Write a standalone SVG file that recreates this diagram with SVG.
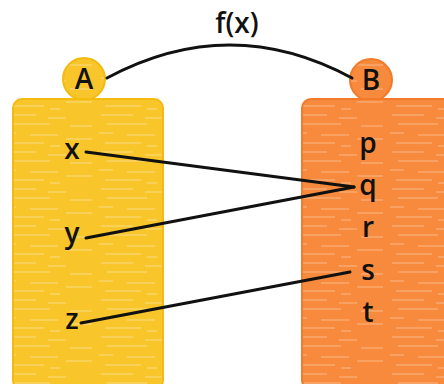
<svg xmlns="http://www.w3.org/2000/svg" width="444" height="384" viewBox="0 0 444 384">
<style>
.lbl{font-family:"Open Sans","Liberation Sans",Arial,sans-serif;font-size:28px;fill:#111;text-anchor:middle;font-weight:600}
.conn{fill:none;stroke:#111;stroke-width:3;stroke-linecap:round}
</style>
<defs>
<pattern id="streakY" width="97" height="37" patternUnits="userSpaceOnUse">
<rect width="97" height="37" fill="#F8C52A"/>
<path d="M4 4h32M48 7h18M10 13h40M70 15h22M2 22h14M30 24h28M66 28h26M8 32h36M50 35h10" stroke="#FCE08A" stroke-width="1.6" opacity="0.65"/>
</pattern>
<pattern id="streakO" width="97" height="37" patternUnits="userSpaceOnUse">
<rect width="97" height="37" fill="#F78A3C"/>
<path d="M4 4h32M48 7h18M10 13h40M70 15h22M2 22h14M30 24h28M66 28h26M8 32h36M50 35h10" stroke="#FBB98A" stroke-width="1.6" opacity="0.65"/>
</pattern>
</defs>
<g id="setA">
<circle cx="84" cy="79" r="21" fill="url(#streakY)" stroke="#F3BA10" stroke-width="2"/>
<text class="lbl" x="84" y="89">A</text>
<rect x="13" y="99" width="150" height="290" rx="9" fill="url(#streakY)" stroke="#F3BA10" stroke-width="2"/>
<text class="lbl" x="72" y="159">x</text>
<text class="lbl" x="72" y="243">y</text>
<text class="lbl" x="72" y="329">z</text>
</g>
<g id="setB">
<circle cx="371" cy="80" r="21" fill="url(#streakO)" stroke="#F27A28" stroke-width="2"/>
<text class="lbl" x="371" y="90">B</text>
<rect x="302" y="99" width="160" height="290" rx="9" fill="url(#streakO)" stroke="#F27A28" stroke-width="2"/>
<text class="lbl" x="368" y="153">p</text>
<text class="lbl" x="368" y="195">q</text>
<text class="lbl" x="368" y="237">r</text>
<text class="lbl" x="368" y="280">s</text>
<text class="lbl" x="368" y="322">t</text>
</g>
<g id="connectors">
<path class="conn" d="M107 78 Q230 12 352 78"/>
<text class="lbl" x="237" y="33">f(x)</text>
<path class="conn" d="M86 152 L354 187"/>
<path class="conn" d="M86 238 L354 187"/>
<path class="conn" d="M81 323 L350 272"/>
</g>
</svg>
